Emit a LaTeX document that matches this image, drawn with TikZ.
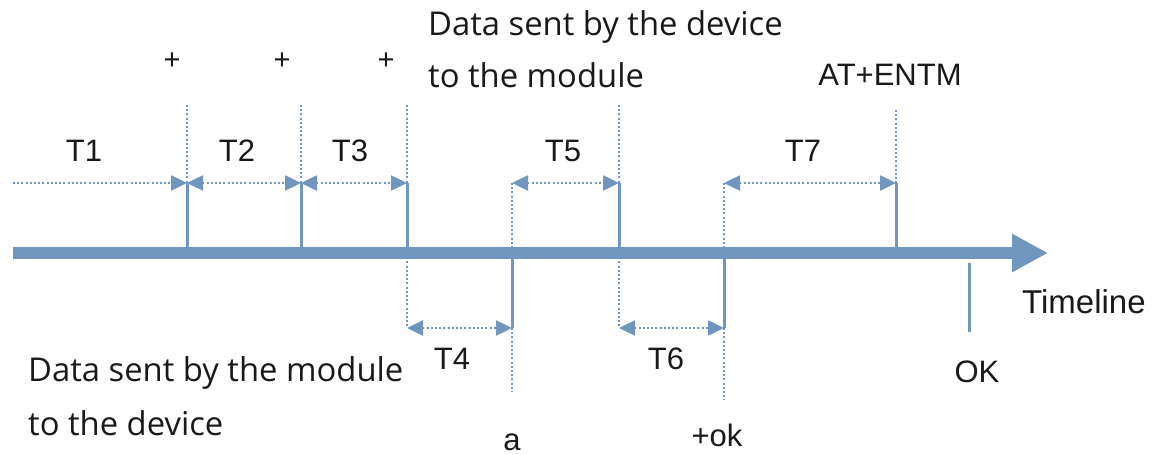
\documentclass[tikz,border=0pt]{standalone}
\usepackage{fontspec}
\setmainfont{Liberation Sans}
\newfontfamily\notefont{Open Sans}
\usetikzlibrary{arrows.meta, positioning}
\definecolor{myblue}{RGB}{112,150,192}
\definecolor{mydark}{RGB}{25,25,25}
\tikzset{
  timeline/.style={line width=12pt, color=myblue, -{Triangle[length=36pt, width=36pt]}},
  tick/.style={line width=3pt, color=myblue},
  guide/.style={line width=2.5pt, color=myblue, dash pattern=on 2pt off 2.2pt},
  span/.style={guide, {Triangle[length=16pt, width=15pt]}-{Triangle[length=16pt, width=15pt]}},
  lead/.style={guide, -{Triangle[length=16pt, width=15pt]}},
  tlbl/.style={font=\fontsize{31}{37}\selectfont, text=mydark, inner sep=0pt},
  note/.style={font=\notefont\fontsize{32.8}{38}\selectfont, text=mydark, inner sep=0pt, anchor=base west}
}

\begin{document}
\begin{tikzpicture}[x=1pt, y=-1pt]
  \useasboundingbox (0,0) rectangle (1157,455);

  % Marker points
  \coordinate (start) at (13,183);
  \coordinate (ax0) at (13,253);
  \coordinate (ax1) at (1048,253);
  \coordinate (m1t) at (187,105); \coordinate (m1a) at (187,183); \coordinate (m1) at (187,253);
  \coordinate (m2t) at (301,105); \coordinate (m2a) at (301,183); \coordinate (m2) at (301,253);
  \coordinate (m3t) at (407,105); \coordinate (m3a) at (407,183); \coordinate (m3) at (407,253); \coordinate (m3b) at (407,328);
  \coordinate (m4a) at (512,183); \coordinate (m4) at (512,253); \coordinate (m4b) at (512,328); \coordinate (m4e) at (512,392);
  \coordinate (m5t) at (619,105); \coordinate (m5a) at (619,183); \coordinate (m5) at (619,253); \coordinate (m5b) at (619,328);
  \coordinate (m6a) at (724,183); \coordinate (m6) at (724,253); \coordinate (m6b) at (724,328); \coordinate (m6e) at (724,400);
  \coordinate (m7t) at (896,110); \coordinate (m7a) at (896,183); \coordinate (m7) at (896,253);
  \coordinate (m8a) at (969,263); \coordinate (m8b) at (969,332);

  % Guides
  \draw[guide] (m1t) -- (m1a);
  \draw[guide] (m2t) -- (m2a);
  \draw[guide] (m3t) -- (m3a);
  \draw[guide] (m3) -- (m3b);
  \draw[guide] (m4a) -- (m4);
  \draw[guide] (m4b) -- (m4e);
  \draw[guide] (m5t) -- (m5a);
  \draw[guide] (m5) -- (m5b);
  \draw[guide] (m6a) -- (m6);
  \draw[guide] (m6b) -- (m6e);
  \draw[guide] (m7t) -- (m7a);

  % Ticks
  \draw[tick] (m1a) -- (m1);
  \draw[tick] (m2a) -- (m2);
  \draw[tick] (m3a) -- (m3);
  \draw[tick] (m4) -- (m4b);
  \draw[tick] (m5a) -- (m5);
  \draw[tick] (m6) -- (m6b);
  \draw[tick] (m7a) -- (m7);
  \draw[tick] (m8a) -- (m8b);

  % Timeline
  \draw[timeline] (ax0) -- (ax1);

  % Intervals
  \draw[lead] (start) -- (m1a);
  \draw[span] (m1a) -- (m2a);
  \draw[span] (m2a) -- (m3a);
  \draw[span] (m4a) -- (m5a);
  \draw[span] (m6a) -- (m7a);
  \draw[span] (m3b) -- (m4b);
  \draw[span] (m5b) -- (m6b);

  % Interval labels
  \node[tlbl] (t1) at (84,151) {T1};
  \node[tlbl] (t2) at (237,151) {T2};
  \node[tlbl] (t3) at (350,151) {T3};
  \node[tlbl] (t5) at (563,151) {T5};
  \node[tlbl] (t7) at (803,151) {T7};
  \node[tlbl] (t4) at (452,359) {T4};
  \node[tlbl] (t6) at (666,359) {T6};

  % Commands and replies
  \node[tlbl, font=\fontsize{29}{34}\selectfont] (plus1) at (172,61) {+};
  \node[tlbl, font=\fontsize{29}{34}\selectfont] (plus2) at (282,61) {+};
  \node[tlbl, font=\fontsize{29}{34}\selectfont] (plus3) at (386,61) {+};
  \node[tlbl, anchor=base] (entm) at (890,85) {AT+ENTM};
  \node[tlbl, anchor=base] (reply) at (512,450) {a};
  \node[tlbl, anchor=base] (okplus) at (717,446) {+ok};
  \node[tlbl, anchor=base] (ok) at (977,382) {OK};
  \node[tlbl, anchor=base west, font=\fontsize{33}{38}\selectfont] (axlbl) at (1022,313) {Timeline};

  % Direction notes
  \node[note] (devnote1) at (428,35) {Data sent by the device};
  \node[note] (devnote2) at (428,87) {to the module};
  \node[note] (modnote1) at (28,381) {Data sent by the module};
  \node[note] (modnote2) at (28,435) {to the device};
\end{tikzpicture}
\end{document}
